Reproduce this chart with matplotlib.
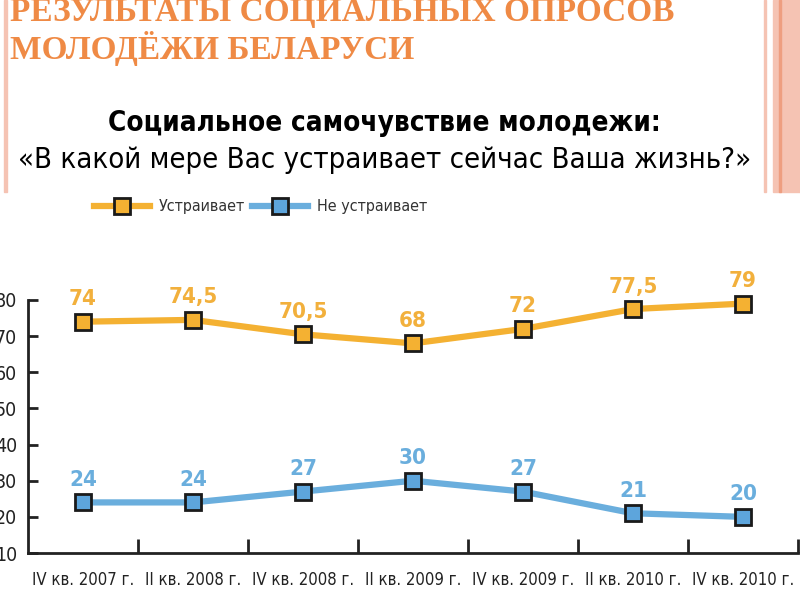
import matplotlib.pyplot as plt
from matplotlib.lines import Line2D
from matplotlib.patches import Rectangle

periods = ['IV кв. 2007 г.', 'II кв. 2008 г.', 'IV кв. 2008 г.', 'II кв. 2009 г.',
           'IV кв. 2009 г.', 'II кв. 2010 г.', 'IV кв. 2010 г.']
satisfied = [74, 74.5, 70.5, 68, 72, 77.5, 79]
not_satisfied = [24, 24, 27, 30, 27, 21, 20]
yticks = [10, 20, 30, 40, 50, 60, 70, 80]

orange = '#F4B132'
orange_txt = '#F2B03C'
blue = '#6AAEDD'
blue_fill = '#5DA5DC'
pink = '#F5C3B3'
title_col = '#EF8A45'

fig = plt.figure(figsize=(8, 6), dpi=100)

# slide decoration
fig.patches.append(Rectangle((0.005, 0.68), 0.004, 0.32, transform=fig.transFigure,
                             color=pink, zorder=0))
fig.patches.append(Rectangle((0.955, 0.68), 0.003, 0.32, transform=fig.transFigure,
                             color=pink, zorder=0))
fig.patches.append(Rectangle((0.966, 0.68), 0.034, 0.32, transform=fig.transFigure,
                             color=pink, zorder=0))
fig.patches.append(Rectangle((0.974, 0.68), 0.002, 0.32, transform=fig.transFigure,
                             color='#EE9E80', zorder=0))

fig.text(0.013, 0.98, 'РЕЗУЛЬТАТЫ СОЦИАЛЬНЫХ ОПРОСОВ', fontsize=24, fontweight='bold',
         family='Liberation Serif', color=title_col, va='center', ha='left')
fig.text(0.013, 0.92, 'МОЛОДЁЖИ БЕЛАРУСИ', fontsize=24, fontweight='bold',
         family='Liberation Serif', color=title_col, va='center', ha='left')
fig.text(0.481, 0.795, 'Социальное самочувствие молодежи:', fontsize=20,
         fontweight='bold', fontstretch='condensed', color='black', ha='center', va='center')
fig.text(0.481, 0.733, '«В какой мере Вас устраивает сейчас Ваша жизнь?»', fontsize=21,
         fontstretch='condensed', color='black', ha='center', va='center')

ax = fig.add_axes([0.035, 0.0783, 0.9625, 0.4217])
x = range(len(periods))
ax.plot(x, satisfied, color=orange, lw=4.5, marker='s', ms=12, mfc=orange,
        mec='#1a1a1a', mew=2, clip_on=False, zorder=3)
ax.plot(x, not_satisfied, color=blue, lw=4.5, marker='s', ms=12, mfc=blue_fill,
        mec='#1a1a1a', mew=2, clip_on=False, zorder=3)

for i, v in enumerate(satisfied):
    ax.annotate(f'{v:g}'.replace('.', ','), (i, v), xytext=(0, 9), textcoords='offset points',
                ha='center', va='bottom', fontsize=16, fontweight='bold',
                fontstretch='condensed', color=orange_txt, annotation_clip=False)
for i, v in enumerate(not_satisfied):
    ax.annotate(f'{v:g}', (i, v), xytext=(0, 9), textcoords='offset points',
                ha='center', va='bottom', fontsize=16, fontweight='bold',
                fontstretch='condensed', color=blue, annotation_clip=False)

ax.set_xlim(-0.5, 6.5)
ax.set_ylim(10, 80)
ax.set_yticks(yticks)
ax.set_yticklabels([str(t) for t in yticks], fontsize=14, fontstretch='condensed',
                   color='#222222')
ax.set_xticks(list(x))
ax.set_xticklabels(periods, fontsize=12, fontstretch='condensed', color='#222222')
ax.set_xticks([i + 0.5 for i in range(7)], minor=True)
ax.tick_params(axis='x', which='major', length=0, pad=13)
ax.tick_params(axis='x', which='minor', direction='in', length=10, width=2, color='#222222')
ax.tick_params(axis='y', direction='in', length=7, width=2, color='#222222', pad=8)
for s in ['top', 'right']:
    ax.spines[s].set_visible(False)
for s in ['left', 'bottom']:
    ax.spines[s].set_linewidth(2)
    ax.spines[s].set_color('#222222')

handles = [Line2D([], [], color=orange, lw=4.5, marker='s', ms=11, mfc=orange, mec='#1a1a1a', mew=2),
           Line2D([], [], color=blue, lw=4.5, marker='s', ms=11, mfc=blue_fill, mec='#1a1a1a', mew=2)]
fig.legend(handles, ['Устраивает', 'Не устраивает'], loc='center left',
           bbox_to_anchor=(0.117, 0.655), borderaxespad=0, borderpad=0,
           ncol=2, frameon=False, prop={'size': 11.5, 'stretch': 'condensed'}, handlelength=3.5,
           handletextpad=0.6, columnspacing=0.4, labelcolor='#333333')

fig.savefig('out.png', dpi=100)
